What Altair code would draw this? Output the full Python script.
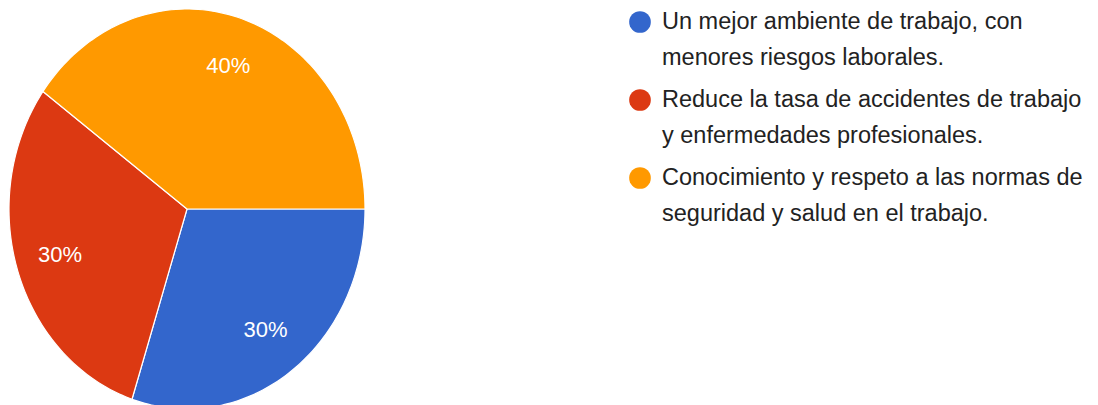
import altair as alt
import pandas as pd

categories = [
    "Un mejor ambiente de trabajo, con menores riesgos laborales.",
    "Reduce la tasa de accidentes de trabajo y enfermedades profesionales.",
    "Conocimiento y respeto a las normas de seguridad y salud en el trabajo.",
]
line1 = [
    "Un mejor ambiente de trabajo, con",
    "Reduce la tasa de accidentes de trabajo",
    "Conocimiento y respeto a las normas de",
]
line2 = [
    "menores riesgos laborales.",
    "y enfermedades profesionales.",
    "seguridad y salud en el trabajo.",
]
values = [30, 30, 40]
labels = ["30%", "30%", "40%"]
colors = ["#3366CC", "#DC3912", "#FF9900"]

df = pd.DataFrame({
    "cat": categories,
    "line1": line1,
    "line2": line2,
    "value": values,
    "label": labels,
    "idx": list(range(len(categories))),
})

FONT = "Liberation Sans, Arial, sans-serif"
color_scale = alt.Scale(domain=categories, range=colors)
xs = alt.Scale(domain=[-1, 1], nice=False, zero=False)
ys = alt.Scale(domain=[-1, 1], nice=False, zero=False)

base = (
    alt.Chart(df)
    .transform_window(cum="sum(value)", sort=[alt.SortField("idx")])
    .transform_joinaggregate(total="sum(value)")
    .transform_calculate(
        a0="(datum.cum - datum.value) / datum.total * 2 * PI + PI / 2",
        a1="datum.cum / datum.total * 2 * PI + PI / 2",
    )
)

slices = (
    base.transform_calculate(k="sequence(-1, 102)")
    .transform_flatten(["k"])
    .transform_calculate(
        r="(datum.k < 0 || datum.k > 100) ? 0 : 1",
        ang="datum.a0 + (datum.a1 - datum.a0) * clamp(datum.k, 0, 100) / 100",
    )
    .transform_calculate(
        px="datum.r * sin(datum.ang)",
        py="datum.r * cos(datum.ang)",
    )
    .mark_line(strokeWidth=1.2, strokeJoin="round", interpolate="linear")
    .encode(
        x=alt.X("px:Q", scale=xs, axis=None),
        y=alt.Y("py:Q", scale=ys, axis=None),
        fill=alt.Fill("cat:N", scale=color_scale, legend=None),
        stroke=alt.value("white"),
        order=alt.Order("k:Q"),
    )
)

pct = (
    base.transform_calculate(mid="(datum.a0 + datum.a1) / 2")
    .transform_calculate(
        px="0.75 * sin(datum.mid)",
        py="0.75 * cos(datum.mid)",
    )
    .mark_text(font=FONT, fontSize=22, color="white")
    .encode(
        x=alt.X("px:Q", scale=xs, axis=None),
        y=alt.Y("py:Q", scale=ys, axis=None),
        text="label:N",
    )
)

pie = alt.layer(slices, pct).properties(width=356, height=400)

ly = alt.Y(
    "cat:N",
    scale=alt.Scale(domain=categories, type="point", range=[13, 169], padding=0),
    axis=None,
)
dots = alt.Chart(df).mark_circle(size=470, opacity=1).encode(
    x=alt.value(18),
    y=ly,
    color=alt.Color("cat:N", scale=color_scale, legend=None),
)
t1 = alt.Chart(df).mark_text(
    align="left", baseline="middle", font=FONT, fontSize=23.5, color="#222222"
).encode(x=alt.value(40), y=ly, text="line1:N")
t2 = alt.Chart(df).mark_text(
    align="left", baseline="middle", font=FONT, fontSize=23.5, color="#222222", dy=36
).encode(x=alt.value(40), y=ly, text="line2:N")

legend = alt.layer(dots, t1, t2).properties(width=460, height=200)

chart = (
    alt.hconcat(pie, legend, spacing=256, padding=0)
    .resolve_scale(color="independent", fill="independent")
    .configure_view(stroke=None)
)

chart.save("out.html", embed_options={"renderer": "svg", "actions": False})
